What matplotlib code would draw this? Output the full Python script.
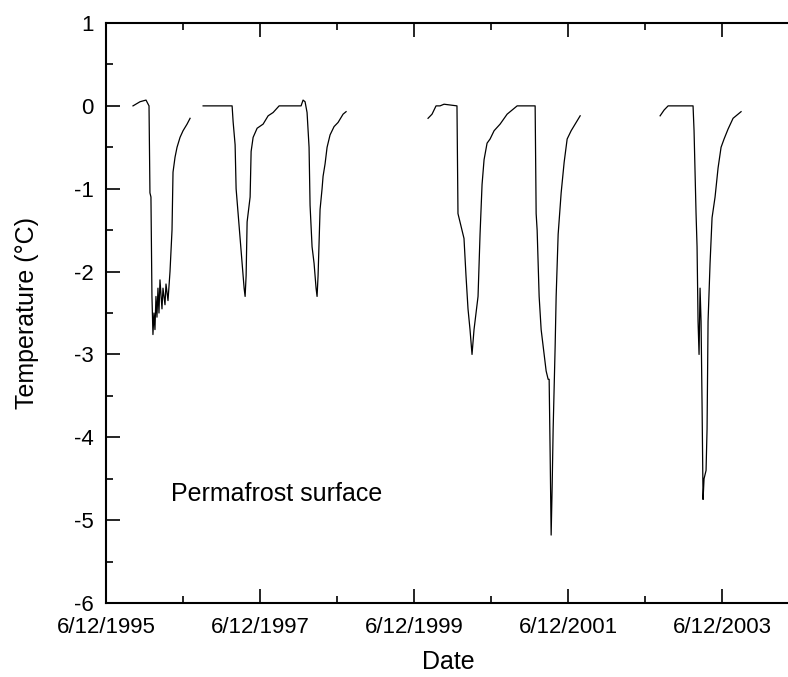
import datetime as dt

import matplotlib
matplotlib.use("Agg")
import matplotlib.pyplot as plt
import matplotlib.dates as mdates
from matplotlib.ticker import FixedLocator, FuncFormatter, MultipleLocator

plt.rcParams["font.family"] = ["Liberation Sans", "DejaVu Sans"]
plt.rcParams["axes.unicode_minus"] = False

# time in decimal years, temperature in deg C, one list per logger record
rec1_year = [1995.795, 1995.886, 1995.964, 1996.003, 1996.015, 1996.028, 1996.041,
             1996.054, 1996.067, 1996.080, 1996.093, 1996.106, 1996.119, 1996.132,
             1996.145, 1996.171, 1996.184, 1996.210, 1996.223, 1996.249, 1996.275,
             1996.301, 1996.314, 1996.340, 1996.366, 1996.405, 1996.444, 1996.496,
             1996.535]
rec1_temp = [0.0, 0.05, 0.07, 0.0, -1.05, -1.1, -2.3,
             -2.76, -2.5, -2.7, -2.3, -2.55, -2.2, -2.5,
             -2.1, -2.45, -2.2, -2.4, -2.15, -2.35, -2.0,
             -1.5, -0.8, -0.62, -0.5, -0.38, -0.3, -0.22,
             -0.15]

rec2_year = [1996.704, 1997.080, 1997.093, 1997.119, 1997.132, 1997.158, 1997.184,
             1997.210, 1997.236, 1997.249, 1997.262, 1997.275, 1997.288, 1997.314,
             1997.327, 1997.353, 1997.405, 1997.483, 1997.548, 1997.613, 1997.691,
             1997.976, 1998.002, 1998.028, 1998.054, 1998.080, 1998.093, 1998.119,
             1998.145, 1998.171, 1998.184, 1998.197, 1998.223, 1998.249, 1998.262,
             1998.288, 1998.314, 1998.353, 1998.405, 1998.457, 1998.522, 1998.561]
rec2_temp = [0.0, 0.0, -0.19, -0.47, -1.0, -1.3, -1.6,
             -1.9, -2.2, -2.3, -2.05, -1.4, -1.3, -1.1,
             -0.55, -0.38, -0.27, -0.22, -0.12, -0.08, 0.0,
             0.0, 0.07, 0.05, -0.08, -0.5, -1.2, -1.7,
             -1.9, -2.2, -2.3, -2.05, -1.25, -1.0, -0.85,
             -0.7, -0.5, -0.35, -0.25, -0.2, -0.1, -0.07]

rec3_year = [1999.626, 1999.678, 1999.730, 1999.782, 1999.834, 2000.002, 2000.015,
             2000.054, 2000.093, 2000.119, 2000.145, 2000.171, 2000.197, 2000.223,
             2000.249, 2000.275, 2000.301, 2000.327, 2000.353, 2000.392, 2000.431,
             2000.483, 2000.561, 2000.652, 2000.782, 2001.015, 2001.028, 2001.041,
             2001.067, 2001.093, 2001.119, 2001.158, 2001.184, 2001.197, 2001.210,
             2001.223, 2001.236, 2001.249, 2001.275, 2001.288, 2001.314, 2001.353,
             2001.392, 2001.431, 2001.483, 2001.548, 2001.600]
rec3_temp = [-0.15, -0.1, 0.0, 0.0, 0.02, 0.0, -1.3,
             -1.45, -1.6, -2.05, -2.45, -2.7, -3.0, -2.7,
             -2.5, -2.3, -1.55, -0.95, -0.65, -0.45, -0.4,
             -0.3, -0.22, -0.1, 0.0, 0.0, -1.3, -1.5,
             -2.3, -2.7, -2.9, -3.2, -3.3, -3.3, -4.2,
             -5.18, -4.6, -3.9, -2.9, -2.3, -1.55, -1.05,
             -0.68, -0.4, -0.3, -0.2, -0.12]

rec4_year = [2002.639, 2002.691, 2002.743, 2003.067, 2003.080, 2003.106, 2003.119,
             2003.132, 2003.145, 2003.158, 2003.171, 2003.184, 2003.197, 2003.210,
             2003.236, 2003.249, 2003.262, 2003.288, 2003.314, 2003.353, 2003.392,
             2003.431, 2003.470, 2003.522, 2003.587, 2003.652, 2003.691]
rec4_temp = [-0.12, -0.05, 0.0, 0.0, -0.3, -1.3, -1.7,
             -2.6, -3.0, -2.2, -2.6, -3.6, -4.75, -4.5,
             -4.4, -3.9, -2.6, -1.9, -1.35, -1.1, -0.75,
             -0.5, -0.4, -0.28, -0.15, -0.1, -0.07]

records = [(rec1_year, rec1_temp), (rec2_year, rec2_temp),
           (rec3_year, rec3_temp), (rec4_year, rec4_temp)]

major_ticks = ["1995-06-12", "1997-06-12", "1999-06-12", "2001-06-12", "2003-06-12"]
minor_ticks = ["1996-06-12", "1998-06-12", "2000-06-12", "2002-06-12"]


def to_date(y):
    year = int(y)
    start = dt.datetime(year, 1, 1)
    length = (dt.datetime(year + 1, 1, 1) - start).days
    return start + dt.timedelta(days=(y - year) * length)


def date_num(s):
    return mdates.date2num(dt.datetime.strptime(s, "%Y-%m-%d"))


fig = plt.figure(figsize=(7.88, 6.77), dpi=100)
ax = fig.add_axes([0.1345, 0.1093, 0.8693, 0.8567])

for years, temps in records:
    ax.plot([to_date(y) for y in years], temps, color="black", lw=0.9)

ax.set_xlim(dt.datetime(1995, 6, 12), dt.datetime(2004, 5, 4))
ax.set_ylim(-6, 1)

ax.xaxis.set_major_locator(FixedLocator([date_num(s) for s in major_ticks]))
ax.xaxis.set_minor_locator(FixedLocator([date_num(s) for s in minor_ticks]))
ax.xaxis.set_major_formatter(FuncFormatter(
    lambda v, pos: "{d.month}/{d.day}/{d.year}".format(d=mdates.num2date(v))))
ax.yaxis.set_major_locator(MultipleLocator(1))
ax.yaxis.set_minor_locator(MultipleLocator(0.5))

ax.tick_params(which="both", direction="in", top=True, right=False,
               labelsize=16, width=1.2)
ax.tick_params(which="major", length=10)
ax.tick_params(which="minor", length=5)
ax.tick_params(axis="x", which="major", pad=10)
ax.tick_params(axis="y", which="major", pad=9)
for side in ("left", "bottom", "top"):
    ax.spines[side].set_linewidth(1.5)
ax.spines["right"].set_visible(False)

ax.set_xlabel("Date", fontsize=18, labelpad=9)
ax.set_ylabel("Temperature (°C)", fontsize=18, labelpad=25)

ax.text(to_date(1996.29), -4.77, "Permafrost surface", fontsize=18)

fig.savefig("out.png", dpi=100, facecolor="white")
